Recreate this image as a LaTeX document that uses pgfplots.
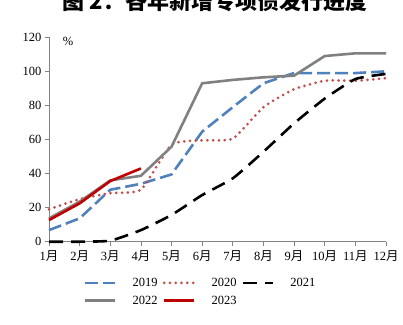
\documentclass[border=0pt]{standalone}
\usepackage{pgfplots}
\pgfplotsset{compat=1.18}
\usepackage{fontspec}
\setmainfont{Liberation Serif}
\newfontfamily\cjk{Noto Sans CJK SC}
\definecolor{c19}{RGB}{79,129,189}
\definecolor{c20}{RGB}{192,80,77}
\definecolor{c22}{RGB}{128,128,128}
\definecolor{c23}{RGB}{192,0,0}
\definecolor{axc}{RGB}{130,130,130}
\begin{document}
\begin{tikzpicture}[x=1pt,y=1pt]
\begin{axis}[
  at={(49pt,82.3pt)}, anchor=south west,
  scale only axis, width=337pt, height=204.4pt,
  xmin=1, xmax=12, ymin=0, ymax=120,
  axis lines=left,
  axis line style={-, draw=axc, line width=1pt},
  xtick={1,...,12},
  xticklabels={1{\cjk 月},2{\cjk 月},3{\cjk 月},4{\cjk 月},5{\cjk 月},6{\cjk 月},7{\cjk 月},8{\cjk 月},9{\cjk 月},10{\cjk 月},11{\cjk 月},12{\cjk 月}},
  ytick={0,20,...,120},
  tick align=outside, major tick length=4pt,
  tick style={draw=axc, line width=0.8pt},
  tick label style={font=\fontsize{12.5}{12.5}\selectfont},
  /pgf/number format/assume math mode=true,
  xticklabel style={yshift=-1.5pt},
  legend columns=3,
  legend style={at={(0.45,-0.245)}, anchor=center, draw=none, fill=none,
    font=\fontsize{12.5}{12.5}\selectfont, row sep=4pt,
    /tikz/every even column/.append style={column sep=3pt},
    /tikz/every odd column/.append style={column sep=14pt}},
  legend cell align=left,
  legend image code/.code={\draw[#1] (0pt,0pt) -- (30pt,0pt);},
  clip=false,
]
\addplot[c19, line width=2.6pt, dash pattern=on 13pt off 5pt] coordinates {
(1,6.8)(2,13.7)(3,30.5)(4,34)(5,39.5)(6,64.6)(7,79)(8,93)(9,99)(10,99)(11,99)(12,100)};
\addlegendentry{2019}
\addplot[c20, line width=3pt, line cap=round, dash pattern=on 0pt off 5.8pt, smooth, tension=0.3] coordinates {
(1,19)(2,25)(3,28.5)(4,30.5)(5,57)(6,59.5)(7,60.5)(8,79)(9,89.5)(10,94.5)(11,94.5)(12,96)};
\addlegendentry{2020}
\addplot[black, line width=2.6pt, dash pattern=on 14pt off 8pt, smooth, tension=0.3] coordinates {
(1,0)(2,0)(3,0.6)(4,6.8)(5,15.7)(6,27.4)(7,37.2)(8,52.8)(9,69.5)(10,84)(11,95.5)(12,98.5)};
\addlegendentry{2021}
\addplot[c22, line width=2.6pt] coordinates {
(1,13.7)(2,23.5)(3,36)(4,38.7)(5,55.8)(6,93)(7,95)(8,96.5)(9,97.5)(10,109)(11,110.6)(12,110.6)};
\addlegendentry{2022}
\addplot[c23, line width=2.6pt] coordinates {
(1,12.7)(2,22.5)(3,35.6)(4,43)};
\addlegendentry{2023}
\node[font=\fontsize{12.5}{12.5}\selectfont] at (axis cs:1.62,117.4) {\%};
\end{axis}
\node[anchor=base, font=\cjk\bfseries\fontsize{22}{22}\selectfont] at (215pt,314.5pt) {图 2：各年新增专项债发行进度};
\pgfresetboundingbox
\useasboundingbox (0pt,0pt) rectangle (403pt,324pt);
\end{tikzpicture}
\end{document}
